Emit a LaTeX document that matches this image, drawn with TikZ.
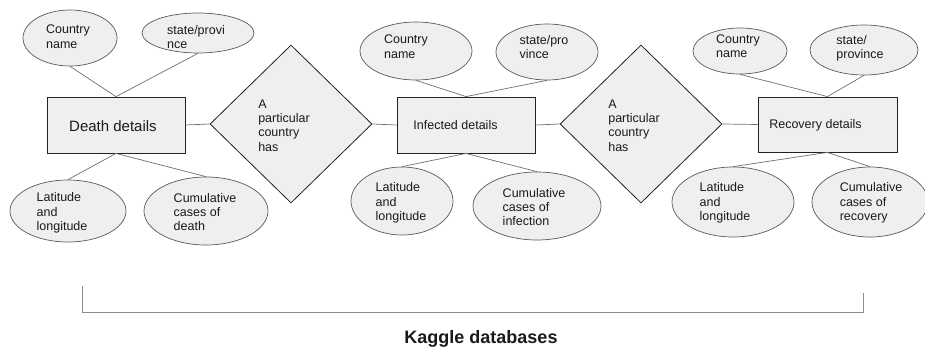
\documentclass[tikz,border=0pt]{standalone}
\usepackage{fontspec}
\setmainfont{Liberation Sans}
\usetikzlibrary{shapes.geometric}
\definecolor{shapefill}{HTML}{EFEFEF}
\definecolor{edgedark}{HTML}{222222}
\definecolor{edgegrey}{HTML}{595959}
\definecolor{linkgrey}{HTML}{6E6E6E}
\definecolor{bracegrey}{HTML}{8C8C8C}
\definecolor{inkcol}{HTML}{1A1A1A}

\begin{document}
\begin{tikzpicture}[x=1pt,y=-1pt,
  entity/.style={draw=edgedark, fill=shapefill, line width=0.8pt,
    minimum width=138pt, minimum height=56pt, inner sep=0pt},
  relation/.style={diamond, draw=edgedark, fill=shapefill, line width=0.8pt,
    minimum width=162pt, minimum height=158pt, inner sep=0pt},
  attr/.style={ellipse, draw=edgegrey, fill=shapefill, line width=0.7pt, inner sep=0pt},
  txt/.style={align=left, inner sep=0pt, text=inkcol,
    font=\fontsize{12.5}{14.4}\selectfont},
  link/.style={draw=linkgrey, line width=0.7pt},
  brace/.style={draw=bracegrey, line width=0.9pt},
]
\useasboundingbox (0,0) rectangle (925,350);
\clip (0,0) rectangle (925,350);

% entities
\node[entity] (r1) at (116,125) {};
\node[entity] (r2) at (466,125) {};
\node[entity, minimum width=139pt, minimum height=55pt] (r3) at (827.5,124.5) {};
\node[txt, font=\fontsize{15}{17}\selectfont] (r1t) at (113,126) {Death details};
\node[txt] (r2t) at (455.5,125.5) {Infected details};
\node[txt] (r3t) at (815.5,125.5) {Recovery details};

% relationships
\node[relation] (d1) at (291,124) {};
\node[relation] (d2) at (641,124) {};
\node[txt] (d1t) at (284,125.5) {A\\particular\\country\\has};
\node[txt] (d2t) at (634,125.5) {A\\particular\\country\\has};

% attributes of the death table
\node[attr, minimum width=94pt, minimum height=56pt] (a1) at (70,38) {};
\node[attr, minimum width=112pt, minimum height=40pt] (b1) at (198,33) {};
\node[attr, minimum width=116pt, minimum height=62pt] (c1) at (68,211) {};
\node[attr, minimum width=124pt, minimum height=68pt] (e1) at (206,211) {};
\node[txt] (a1t) at (68,36.5) {Country\\name};
\node[txt] (b1t) at (196,37) {state/provi\\nce};
\node[txt] (c1t) at (62,213) {Latitude\\and\\longitude};
\node[txt] (e1t) at (205,212) {Cumulative\\cases of\\death};

% attributes of the infection table
\node[attr, minimum width=112pt, minimum height=58pt] (a2) at (416,51) {};
\node[attr, minimum width=102pt, minimum height=56pt] (b2) at (547,52) {};
\node[attr, minimum width=102pt, minimum height=68pt] (c2) at (402,201) {};
\node[attr, minimum width=128pt, minimum height=68pt] (e2) at (537,206) {};
\node[txt] (a2t) at (406,46.5) {Country\\name};
\node[txt] (b2t) at (544,47) {state/pro\\vince};
\node[txt] (c2t) at (401,203) {Latitude\\and\\longitude};
\node[txt] (e2t) at (534,207) {Cumulative\\cases of\\infection};

% attributes of the recovery table
\node[attr, minimum width=94pt, minimum height=46pt] (a3) at (740,51) {};
\node[attr, minimum width=108pt, minimum height=50pt] (b3) at (864,50) {};
\node[attr, minimum width=122pt, minimum height=70pt] (c3) at (733,202) {};
\node[attr, minimum width=116pt, minimum height=70pt] (e3) at (870,202) {};
\node[txt] (a3t) at (738,46) {Country\\name};
\node[txt] (b3t) at (860,48.5) {state/\\province};
\node[txt] (c3t) at (725,203) {Latitude\\and\\longitude};
\node[txt] (e3t) at (871,203) {Cumulative\\cases of\\recovery};

% attribute links
\foreach \t/\e in {a1/r1,b1/r1,a2/r2,b2/r2,a3/r3,b3/r3}
  \draw[link] (\t.south) -- (\e.north);
\foreach \t/\e in {c1/r1,e1/r1,c2/r2,e2/r2,c3/r3,e3/r3}
  \draw[link] (\t.north) -- (\e.south);

% relationship links
\draw[link] (r1.east) -- (d1.west);
\draw[link] (d1.east) -- (r2.west);
\draw[link] (r2.east) -- (d2.west);
\draw[link] (d2.east) -- (r3.west);

% bracket grouping the three tables
\coordinate (bl) at (82,286);
\coordinate (blc) at (82,312.5);
\coordinate (brc) at (863,312.5);
\coordinate (br) at (863,293);
\draw[brace] (bl) -- (blc) -- (brc) -- (br);
\node[anchor=base, inner sep=0pt, text=inkcol,
  font=\bfseries\fontsize{18}{20}\selectfont] (kaggle) at (481,343) {Kaggle databases};
\end{tikzpicture}
\end{document}
